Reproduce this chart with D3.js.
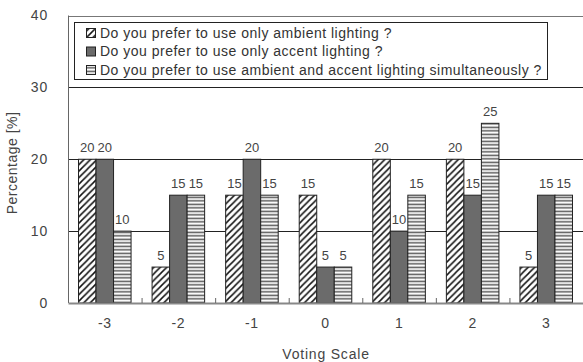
<!DOCTYPE html>
<html><head><meta charset="utf-8">
<script src="https://cdn.jsdelivr.net/npm/d3@7"></script>
<style>body{margin:0;background:#fff}svg{display:block;font-family:"Liberation Sans",Arial,sans-serif}</style>
</head><body><svg id="c" width="583" height="362"></svg>
<script>
const categories = ["-3","-2","-1","0","1","2","3"];
const seriesNames = [
  "Do you prefer to use only ambient lighting ?",
  "Do you prefer to use only accent lighting ?",
  "Do you prefer to use ambient and accent lighting simultaneously ?"
];
const ambientOnly = [20,5,15,15,20,20,5];
const accentOnly = [20,15,20,5,10,15,15];
const both = [10,15,15,5,15,25,15];
const yTicks = [0,10,20,30,40];

const series = [ambientOnly, accentOnly, both];
const svg = d3.select("#c");
const m = {l:68, r:583, t:15.5, b:303};
const txt = "#444";

const defs = svg.append("defs");
const ph = defs.append("pattern").attr("id","hatch").attr("patternUnits","userSpaceOnUse").attr("width",6.5).attr("height",6.5);
ph.append("rect").attr("width",6.5).attr("height",6.5).attr("fill","#fff");
ph.append("path").attr("d","M-1.5,1.5 l3,-3 M0,6.5 l6.5,-6.5 M5,8 l3,-3").attr("stroke","#111").attr("stroke-width",1.5);
const pl = defs.append("pattern").attr("id","horiz").attr("patternUnits","userSpaceOnUse").attr("width",8).attr("height",3.5);
pl.append("rect").attr("width",8).attr("height",3.5).attr("fill","#fff");
pl.append("rect").attr("y",0.6).attr("width",8).attr("height",1.5).attr("fill","#555");
const fills = ["url(#hatch)","#6b6b6b","url(#horiz)"];

const x = d3.scaleBand().domain(categories).range([m.l, m.r]).paddingInner(0).paddingOuter(0);
const x1 = d3.scaleBand().domain([0,1,2]).range([0, x.bandwidth()]).paddingOuter(0.6).paddingInner(0);
const y = d3.scaleLinear().domain([0,40]).range([m.b, m.t]);

// gridlines
svg.append("g").selectAll("line").data(yTicks.filter(d=>d>0)).join("line")
  .attr("x1",m.l).attr("x2",m.r).attr("y1",d=>Math.round(y(d))+0.5).attr("y2",d=>Math.round(y(d))+0.5)
  .attr("stroke",d=>d===40?"#777":"#222").attr("stroke-width",1);
// left frame
svg.append("line").attr("x1",m.l+0.5).attr("x2",m.l+0.5).attr("y1",y(40)).attr("y2",m.b).attr("stroke","#666");

// y axis labels
const yAxis = d3.axisLeft(y).tickValues(yTicks).tickSize(0).tickPadding(20);
const gy = svg.append("g").attr("transform",`translate(${m.l},0)`).call(yAxis);
gy.select(".domain").remove();
gy.selectAll("text").attr("font-size",14).attr("fill",txt).attr("letter-spacing",0.8).attr("font-family","Liberation Sans, Arial, sans-serif");

// bars
const groups = svg.append("g").selectAll("g").data(categories).join("g")
  .attr("transform",d=>`translate(${x(d)},0)`);
groups.selectAll("rect").data((c,i)=>series.map((s,k)=>({k,v:s[i]}))).join("rect")
  .attr("x",d=>x1(d.k)).attr("width",x1.bandwidth())
  .attr("y",d=>y(d.v)).attr("height",d=>m.b-y(d.v))
  .attr("fill",d=>fills[d.k]).attr("stroke","#222").attr("stroke-width",1);
groups.selectAll("text").data((c,i)=>series.map((s,k)=>({k,v:s[i]}))).join("text")
  .attr("x",d=>x1(d.k)+x1.bandwidth()/2).attr("y",d=>y(d.v)-7)
  .attr("text-anchor","middle").attr("font-size",13).attr("fill",txt).text(d=>d.v);

// x axis
const xAxis = d3.axisBottom(x).tickSize(0).tickPadding(15);
const gx = svg.append("g").attr("transform",`translate(0,${m.b})`).call(xAxis);
gx.select(".domain").attr("stroke","#888").attr("stroke-width",2);
gx.selectAll("text").attr("font-size",14).attr("fill",txt).attr("letter-spacing",0.6).attr("font-family","Liberation Sans, Arial, sans-serif");
// boundary ticks (inward)
svg.append("g").selectAll("line").data(categories.slice(1)).join("line")
  .attr("x1",d=>x(d)+0.5).attr("x2",d=>x(d)+0.5).attr("y1",m.b-5).attr("y2",m.b)
  .attr("stroke","#666");

// axis titles
svg.append("text").attr("x",326).attr("y",359).attr("text-anchor","middle").attr("font-size",14).attr("letter-spacing",0.8).attr("fill",txt).text("Voting Scale");
svg.append("text").attr("transform","translate(17,163) rotate(-90)").attr("text-anchor","middle").attr("font-size",14).attr("letter-spacing",0.5).attr("fill",txt).text("Percentage [%]");

// legend
const lg = svg.append("g");
lg.append("rect").attr("x",74.5).attr("y",22.5).attr("width",473).attr("height",57).attr("fill","#fff").attr("stroke","#222");
const items = lg.selectAll("g").data(seriesNames).join("g").attr("transform",(d,i)=>`translate(0,${33+i*18.5})`);
items.append("rect").attr("x",86.5).attr("y",-4.5).attr("width",9).attr("height",9).attr("fill",(d,i)=>fills[i]).attr("stroke","#222");
items.append("text").attr("x",100).attr("y",0).attr("dy","0.35em").attr("font-size",14).attr("letter-spacing",0.5).attr("fill","#333").text(d=>d);
</script></body></html>
